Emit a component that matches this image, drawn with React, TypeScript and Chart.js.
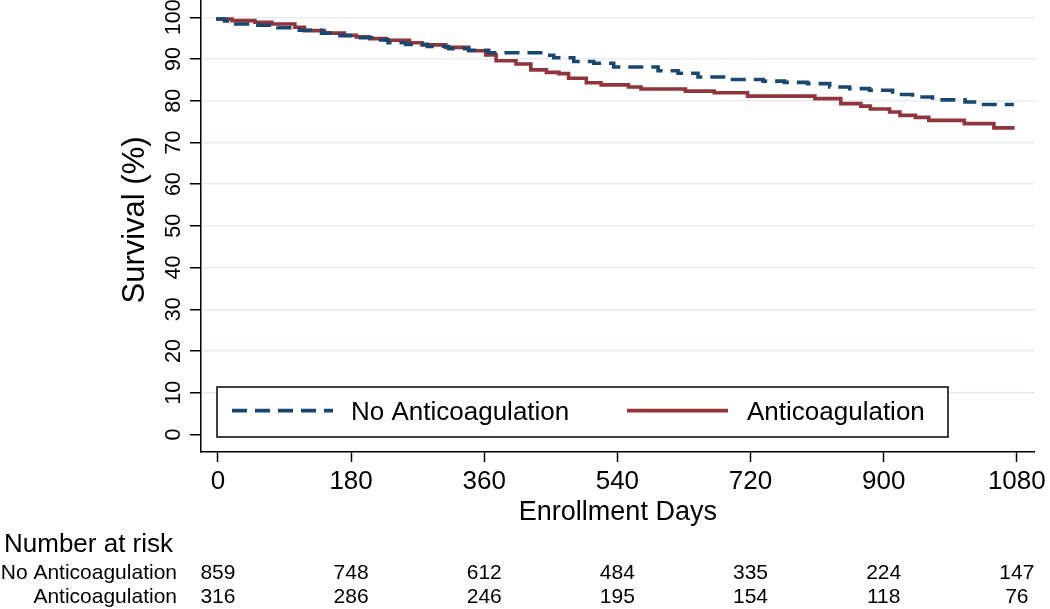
import React, { useEffect, useRef } from 'react';
import { Chart, registerables } from 'chart.js';

Chart.register(...registerables);

// ---- Data ----
const seriesNames = ['No Anticoagulation', 'Anticoagulation'];

const noAcDays = [0, 9, 24, 54, 81, 110, 140, 165, 188, 220, 230, 254, 283, 312, 339, 366, 440, 454, 481, 508, 535, 595, 622, 649, 687, 737, 766, 797, 827, 854, 881, 912, 939, 966, 1010, 1026, 1053, 1076];
const noAcSurv = [100, 99.6, 99.1, 98.4, 98.1, 97.5, 96.9, 96.2, 95.6, 95.1, 94.6, 93.9, 93.5, 93.0, 92.5, 92.1, 91.5, 90.9, 90.3, 89.4, 89.0, 88.1, 87.2, 86.6, 85.7, 85.1, 84.7, 84.4, 84.1, 83.3, 82.9, 82.5, 81.5, 80.9, 80.2, 79.7, 79.1, 79.1];

const acDays = [0, 19, 50, 73, 104, 117, 144, 171, 187, 205, 228, 259, 276, 308, 339, 362, 376, 403, 423, 444, 461, 474, 498, 518, 555, 572, 632, 671, 716, 807, 842, 869, 882, 908, 922, 943, 961, 1009, 1049, 1077];
const acSurv = [100, 99.6, 99.2, 98.8, 98.4, 97.6, 96.8, 96.2, 95.7, 95.3, 94.9, 94.5, 93.9, 93.4, 92.8, 92.0, 91.0, 89.6, 88.8, 87.4, 86.8, 86.5, 85.4, 84.3, 83.8, 83.3, 82.8, 82.3, 81.9, 81.1, 80.5, 79.3, 78.7, 78.0, 77.3, 76.5, 76.0, 75.3, 74.5, 73.5];

const xTicks = [0, 180, 360, 540, 720, 900, 1080];
const yTicks = [0, 10, 20, 30, 40, 50, 60, 70, 80, 90, 100];

const riskNoAc = [859, 748, 612, 484, 335, 224, 147];
const riskAc = [316, 286, 246, 195, 154, 118, 76];

const xTitle = 'Enrollment Days';
const yTitle = 'Survival (%)';
const riskTitle = 'Number at risk';

// ---- Styles ----
const FONT = '"Liberation Sans", Arial, Helvetica, sans-serif';
const NAVY = '#1a476f';
const MAROON = '#90353b';

const overlayPlugin = {
  id: 'overlay',
  beforeDraw(chart: any) {
    const { ctx, width, height } = chart;
    ctx.save();
    ctx.fillStyle = '#ffffff';
    ctx.fillRect(0, 0, width, height);
    ctx.restore();
  },
  afterDraw(chart: any) {
    const ctx = chart.ctx;
    const xs = chart.scales.x;
    const ys = chart.scales.y;
    const ca = chart.chartArea;
    ctx.save();
    ctx.fillStyle = '#000';

    // y tick labels (rotated)
    ctx.font = `21.5px ${FONT}`;
    ctx.textAlign = 'center';
    ctx.textBaseline = 'alphabetic';
    ys.ticks.forEach((t: any) => {
      const py = ys.getPixelForValue(t.value);
      ctx.save();
      ctx.translate(ca.left - 21, py);
      ctx.rotate(-Math.PI / 2);
      ctx.fillText(String(t.value), 0, 0);
      ctx.restore();
    });

    // y title
    ctx.font = `31px ${FONT}`;
    ctx.save();
    ctx.translate(ca.left - 57.5, (ca.top + ca.bottom) / 2 - 6);
    ctx.rotate(-Math.PI / 2);
    ctx.textAlign = 'center';
    ctx.fillText(yTitle, 0, 0);
    ctx.restore();

    // x title
    ctx.font = `27px ${FONT}`;
    ctx.textAlign = 'center';
    ctx.fillText(xTitle, (ca.left + ca.right) / 2, ca.bottom + 67.5);

    // Number at risk table
    ctx.font = `26px ${FONT}`;
    ctx.textAlign = 'left';
    ctx.fillText(riskTitle, 4, ca.bottom + 99.7);

    ctx.font = `21px ${FONT}`;
    ctx.textAlign = 'right';
    ctx.fillText(seriesNames[0], 177, ca.bottom + 126.5);
    ctx.fillText(seriesNames[1], 177, ca.bottom + 151);
    ctx.textAlign = 'center';
    xTicks.forEach((v, i) => {
      const px = xs.getPixelForValue(v);
      ctx.fillText(String(riskNoAc[i]), px, ca.bottom + 126.5);
      ctx.fillText(String(riskAc[i]), px, ca.bottom + 151);
    });

    // Legend (inside plot)
    const bx = 217, by = 387, bw = 731, bh = 50;
    ctx.fillStyle = '#fff';
    ctx.fillRect(bx, by, bw, bh);
    ctx.strokeStyle = '#000';
    ctx.lineWidth = 1.5;
    ctx.strokeRect(bx, by, bw, bh);

    const ds = chart.data.datasets;
    const items = [
      { x1: 232, x2: 333, tx: 351 },
      { x1: 627, x2: 728, tx: 747 },
    ];
    ctx.font = `26px ${FONT}`;
    ctx.textAlign = 'left';
    items.forEach((it, i) => {
      const d = ds[i];
      ctx.save();
      ctx.strokeStyle = d.borderColor;
      ctx.lineWidth = 3.8;
      ctx.setLineDash(d.borderDash || []);
      ctx.beginPath();
      ctx.moveTo(it.x1, 410.7);
      ctx.lineTo(it.x2, 410.7);
      ctx.stroke();
      ctx.restore();
      ctx.fillStyle = '#000';
      ctx.fillText(d.label, it.tx, 420);
    });

    ctx.restore();
  },
};

export default function App() {
  const ref = useRef<HTMLCanvasElement | null>(null);

  useEffect(() => {
    if (!ref.current) return;
    const chart = new Chart(ref.current, {
      type: 'line',
      data: {
        datasets: [
          {
            label: seriesNames[0],
            data: noAcDays.map((d, i) => ({ x: d, y: noAcSurv[i] })),
            borderColor: NAVY,
            borderWidth: 3.6,
            borderDash: [15, 8],
            stepped: 'after',
            pointRadius: 0,
            fill: false,
          },
          {
            label: seriesNames[1],
            data: acDays.map((d, i) => ({ x: d, y: acSurv[i] })),
            borderColor: MAROON,
            borderWidth: 3.6,
            stepped: 'after',
            pointRadius: 0,
            fill: false,
          },
        ],
      },
      options: {
        responsive: false,
        animation: false,
        devicePixelRatio: 1,
        layout: { padding: { top: 0, right: 12, bottom: 0, left: 0 } },
        plugins: {
          legend: { display: false },
          tooltip: { enabled: false },
          title: { display: false },
        },
        scales: {
          x: {
            type: 'linear',
            position: 'bottom',
            min: -22.9,
            max: 1104.2,
            afterBuildTicks: (s: any) => {
              s.ticks = xTicks.map((v) => ({ value: v }));
            },
            afterFit: (s: any) => {
              s.height = 157;
            },
            ticks: {
              autoSkip: false,
              maxRotation: 0,
              minRotation: 0,
              padding: 4,
              color: '#000',
              font: { family: FONT, size: 26 },
              callback: (v: any) => String(v),
            },
            grid: {
              drawOnChartArea: false,
              drawTicks: true,
              tickLength: 10,
              tickWidth: 1.5,
              tickColor: '#000',
              color: '#000',
            },
            border: { display: true, color: '#000', width: 1.5 },
          },
          y: {
            type: 'linear',
            position: 'left',
            min: -4.22,
            max: 104.15,
            afterBuildTicks: (s: any) => {
              s.ticks = yTicks.map((v) => ({ value: v }));
            },
            afterFit: (s: any) => {
              s.width = 201;
            },
            ticks: { display: false },
            grid: {
              drawOnChartArea: true,
              drawTicks: true,
              tickLength: 11,
              tickWidth: 1.5,
              tickColor: '#000',
              lineWidth: 1.5,
              color: (c: any) => (c.tick && c.tick.value === 0 ? 'rgba(0,0,0,0)' : '#e6eef1'),
            },
            border: { display: true, color: '#000', width: 1.5 },
          },
        },
      },
      plugins: [overlayPlugin],
    } as any);
    return () => chart.destroy();
  }, []);

  return (
    <div style={{ position: 'fixed', left: 0, top: 0, width: 1050, height: 609, background: '#fff' }}>
      <canvas ref={ref} width={1050} height={609} style={{ display: 'block', width: 1050, height: 609 }} />
    </div>
  );
}
